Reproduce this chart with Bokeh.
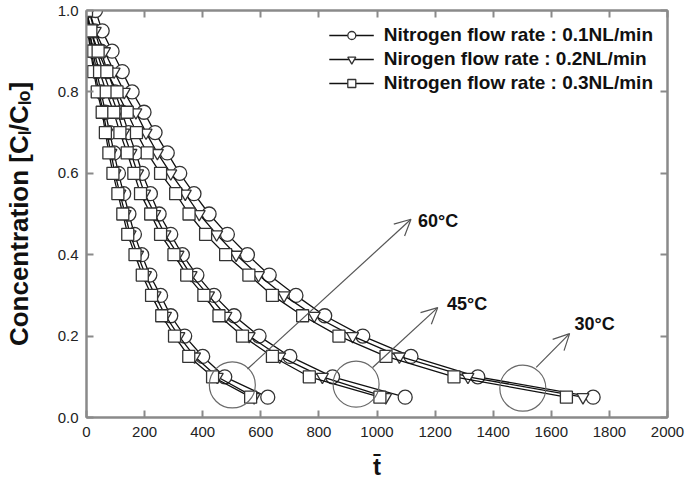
from bokeh.plotting import figure
from bokeh.models import (LinearAxis, Range1d, Arrow, OpenHead, Legend, LegendItem,
                          PrintfTickFormatter, SingleIntervalTicker)
from bokeh.core.properties import value
from bokeh.embed import file_html
from bokeh.resources import INLINE

# ---------------- data ----------------
y_levels = [1.0, 0.95, 0.9, 0.85, 0.8, 0.75, 0.7, 0.65, 0.6, 0.55,
            0.5, 0.45, 0.4, 0.35, 0.3, 0.25, 0.2, 0.15, 0.1, 0.05]

# 60 C
x60_q01 = [0, 10, 22, 35, 50, 65, 80, 95, 110, 128, 146, 165, 190, 218, 255, 290, 338, 400, 476, 624]
x60_q02 = [0, 6, 17, 29, 42, 58, 70, 84, 98, 115, 133, 150, 176, 203, 236, 272, 318, 372, 450, 577]
x60_q03 = [0, 4, 14, 25, 37, 54, 65, 77, 91, 108, 125, 142, 167, 192, 224, 259, 303, 352, 434, 565]
# 45 C
x45_q01 = [8, 28, 50, 72, 98, 122, 145, 170, 192, 220, 250, 290, 330, 380, 439, 508, 594, 700, 847, 1097]
x45_q02 = [0, 15, 35, 57, 82, 107, 128, 153, 176, 200, 235, 270, 315, 360, 420, 480, 560, 665, 812, 1030]
x45_q03 = [0, 8, 25, 45, 68, 94, 115, 140, 163, 186, 221, 255, 301, 345, 404, 456, 537, 640, 767, 1010]
# 30 C
x30_q01 = [31, 54, 88, 123, 157, 198, 236, 278, 321, 370, 422, 485, 554, 629, 721, 820, 951, 1117, 1347, 1744]
x30_q02 = [10, 30, 62, 95, 130, 170, 205, 244, 290, 340, 388, 448, 515, 592, 680, 784, 916, 1077, 1313, 1709]
x30_q03 = [0, 15, 40, 70, 105, 140, 172, 209, 255, 307, 353, 410, 479, 559, 640, 744, 869, 1031, 1265, 1652]

legend_labels = ["Nitrogen flow rate : 0.1NL/min",
                 "Nirogen flow rate : 0.2NL/min",
                 "Nitrogen flow rate : 0.3NL/min"]
markers = ["circle", "inverted_triangle", "square"]

# annotation: highlighted end regions, arrows and temperature labels
temp_labels = ["60°C", "45°C", "30°C"]
ring_x = [502, 928, 1502]
ring_y = [0.080, 0.082, 0.072]
arrow_x0 = [554, 985, 1548]
arrow_y0 = [0.119, 0.123, 0.123]
arrow_x1 = [1117, 1209, 1663]
arrow_y1 = [0.487, 0.270, 0.206]
label_x = [1141, 1241, 1680]
label_y = [0.482, 0.278, 0.229]

x_ticks_step = 200
y_ticks_step = 0.2

FONT = "Liberation Sans"
AXIS_COL = "#8a8a8a"

# ---------------- figure ----------------
p = figure(width=688, height=492, x_range=Range1d(0, 2000), y_range=Range1d(0, 1.0),
           output_backend="svg", toolbar_location=None,
           min_border_left=86, min_border_right=21, min_border_top=10, min_border_bottom=75)
p.xgrid.visible = False
p.ygrid.visible = False
p.outline_line_color = AXIS_COL
p.outline_line_width = 2
p.background_fill_color = "white"
p.border_fill_color = "white"

xt = SingleIntervalTicker(interval=x_ticks_step, num_minor_ticks=0)
yt = SingleIntervalTicker(interval=y_ticks_step, num_minor_ticks=0)


def style_axis(ax, show_labels):
    ax.axis_line_color = AXIS_COL
    ax.axis_line_width = 2
    ax.major_tick_line_color = AXIS_COL
    ax.major_tick_line_width = 2
    ax.major_tick_in = 7
    ax.major_tick_out = 0
    ax.minor_tick_line_color = None
    if show_labels:
        ax.major_label_text_font = FONT
        ax.major_label_text_font_size = "15px"
        ax.major_label_text_color = "#222222"
    else:
        ax.major_label_text_font_size = "0px"
        ax.major_label_text_color = None
        ax.major_label_standoff = 0


p.xaxis.ticker = xt
p.yaxis.ticker = yt
style_axis(p.xaxis[0], True)
style_axis(p.yaxis[0], True)
p.yaxis.formatter = PrintfTickFormatter(format="%.1f")
p.xaxis.major_label_standoff = 9
p.yaxis.major_label_standoff = 8

p.yaxis.axis_label = "Concentration [Cₗ/Cₗₒ]"
p.yaxis.axis_label_text_font = FONT
p.yaxis.axis_label_text_font_style = "bold"
p.yaxis.axis_label_text_font_size = "26px"
p.yaxis.axis_label_text_color = "#111111"
p.yaxis.axis_label_standoff = 21

p.xaxis.axis_label = "t\u0304"
p.xaxis.axis_label_text_font = FONT
p.xaxis.axis_label_text_font_style = "bold"
p.xaxis.axis_label_text_font_size = "24px"
p.xaxis.axis_label_text_color = "#111111"
p.xaxis.axis_label_standoff = 13

ax_r = LinearAxis(ticker=yt)
style_axis(ax_r, False)
p.add_layout(ax_r, "right")
ax_t = LinearAxis(ticker=xt)
style_axis(ax_t, False)
p.add_layout(ax_t, "above")

# ---------------- series ----------------
groups = [
    [x60_q01, x60_q02, x60_q03],
    [x45_q01, x45_q02, x45_q03],
    [x30_q01, x30_q02, x30_q03],
]
sizes = {"circle": 14, "inverted_triangle": 12, "square": 12}
legend_renderers = [[], [], []]
for g, series in enumerate(groups):
    for k, xs in enumerate(series):
        lr = p.line(xs, y_levels, line_color="#111111", line_width=1.3)
        sr = p.scatter(xs, y_levels, marker=markers[k], size=sizes[markers[k]],
                       fill_color="white", line_color="#333333", line_width=1.3)
        if g == 0:
            legend_renderers[k] = [lr, sr]

# highlight rings
p.scatter(ring_x, ring_y, marker="circle", size=46, fill_color=None,
          line_color="#6a6a6a", line_width=1.2)

# arrows
for i in range(3):
    p.add_layout(Arrow(end=OpenHead(size=16, line_color="#555555", line_width=1.2),
                       x_start=arrow_x0[i], y_start=arrow_y0[i],
                       x_end=arrow_x1[i], y_end=arrow_y1[i],
                       line_color="#555555", line_width=1.2))

p.text(x=label_x, y=label_y, text=temp_labels, text_font=value(FONT),
       text_font_style="bold", text_font_size="18px", text_color="#111111",
       text_baseline="middle", text_align="left")

legend = Legend(items=[LegendItem(label=legend_labels[k], renderers=legend_renderers[k])
                       for k in range(3)],
                location="top_right")
legend.border_line_color = None
legend.background_fill_alpha = 0
legend.label_text_font = FONT
legend.label_text_font_style = "bold"
legend.label_text_font_size = "19px"
legend.label_text_color = "#111111"
legend.glyph_width = 45
legend.glyph_height = 20
legend.label_height = 20
legend.label_standoff = 10
legend.spacing = 2
legend.padding = 12
legend.margin = 14
p.add_layout(legend)

open("out.html", "w").write(file_html(p, INLINE))
